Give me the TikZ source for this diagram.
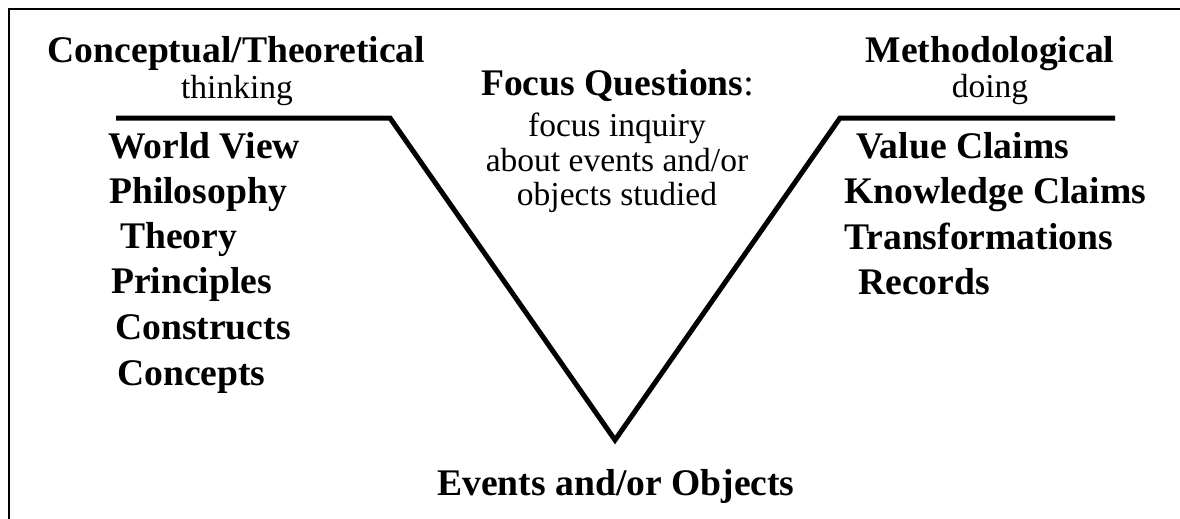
\documentclass[tikz,border=0pt]{standalone}
\usepackage{fontspec}
\setmainfont{Liberation Serif}
\begin{document}
\begin{tikzpicture}[x=1pt,y=-1pt,
  head/.style={font=\fontsize{37.6}{40}\selectfont\bfseries, inner sep=0pt, anchor=base},
  sub/.style={font=\fontsize{33.5}{36}\selectfont, inner sep=0pt, anchor=base},
  item/.style={font=\fontsize{37.6}{40}\selectfont\bfseries, inner sep=0pt, anchor=base west},
  vline/.style={line width=5pt, line join=miter},
  frameline/.style={line width=1.8pt}]
\useasboundingbox (0,0) rectangle (1180,519);
% frame (top and left edges visible)
\draw[frameline] (8,9) -- (1180,9);
\draw[frameline] (9,9) -- (9,519);
% headings
\node[head] (ct) at (236.5,63) {Conceptual/Theoretical};
\node[sub]  (th) at (237,98) {thinking};
\node[head] (me) at (990,63) {Methodological};
\node[sub]  (dg) at (990,97) {doing};
\node[head] (fq) at (617.5,95) {Focus Questions{\mdseries:}};
\node[sub]  (f1) at (617,136) {focus inquiry};
\node[sub]  (f2) at (617,171) {about events and/or};
\node[sub]  (f3) at (617,205) {objects studied};
% left column
\node[item] (wv) at (108,158) {World View};
\node[item] (ph) at (109,203) {Philosophy};
\node[item] (ty) at (120,248) {Theory};
\node[item] (pr) at (111,293) {Principles};
\node[item] (cs) at (115,339) {Constructs};
\node[item] (cp) at (117,385) {Concepts};
% right column
\node[item] (vc) at (856,158) {Value Claims};
\node[item] (kc) at (844,203) {Knowledge Claims};
\node[item] (tf) at (844,249) {Transformations};
\node[item] (rc) at (858,294) {Records};
% bottom
\node[head] (eo) at (616,495) {Events and/or Objects};
% the V
\coordinate (l1) at (116,118);
\coordinate (l2) at (390,118);
\coordinate (v)  at (615,440);
\coordinate (r2) at (840,118);
\coordinate (r1) at (1115,118);
\draw[vline] (l1) -- (l2) -- (v) -- (r2) -- (r1);
\end{tikzpicture}
\end{document}
